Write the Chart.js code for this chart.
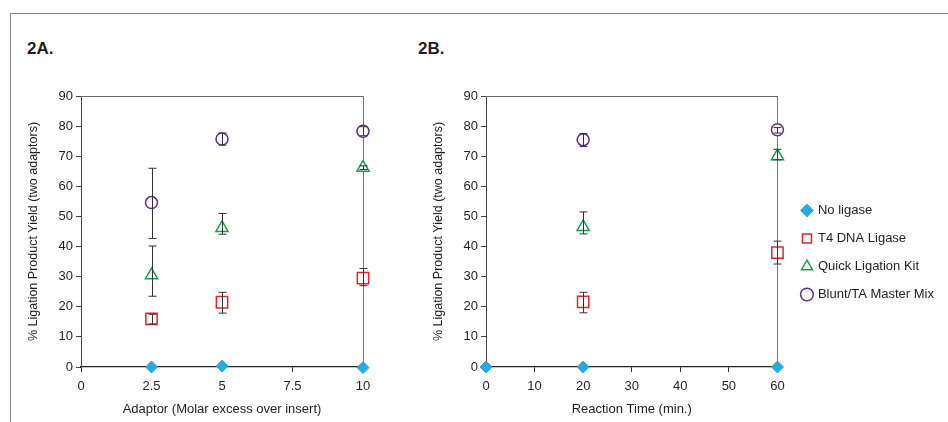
<!DOCTYPE html>
<html>
<head>
  <title>Ligation Product Yield</title>
  <script src="https://cdn.jsdelivr.net/npm/chart.js"></script>
  <style>
    html, body { margin: 0; padding: 0; background: #fff; overflow: hidden; width: 948px; height: 422px; }
    #frame { position: absolute; left: 10px; top: 13px; width: 950px; height: 430px;
             border-top: 1.5px solid #8a8a8a; border-left: 1.5px solid #8a8a8a; }
    .panel { position: absolute; top: 40px; font: bold 17px "Liberation Sans", Arial, sans-serif;
             color: #231f20; line-height: 1; }
    canvas { position: absolute; top: 0; }
  </style>
</head>
<body>
  <div id="frame"></div>
  <div class="panel" style="left:27px">2A.</div>
  <div class="panel" style="left:418px">2B.</div>
  <canvas id="chartA" width="400" height="422" style="left:0"></canvas>
  <canvas id="chartB" width="560" height="422" style="left:400px"></canvas>

  <script>
    // --- data ---
    const seriesNames = ['No ligase', 'T4 DNA Ligase', 'Quick Ligation Kit', 'Blunt/TA Master Mix'];
    const yTicks = { min: 0, max: 90, step: 10 };

    // 2A: adaptor molar excess
    const adaptorX = [2.5, 5, 10];
    const noLigaseA = [0, 0.3, -0.2];
    const t4A = [16, 21.5, 29.5];
    const t4ALo = [14.3, 17.9, 27];
    const t4AHi = [17.5, 24.8, 32.7];
    const quickA = [30.5, 46.2, 66.2];
    const quickALo = [23.5, 44.1, 65.6];
    const quickAHi = [40.2, 51, 66.8];
    const bluntA = [54.6, 75.7, 78.3];
    const bluntALo = [42.7, 73.7, 76.8];
    const bluntAHi = [66, 77.7, 79.8];

    // 2B: reaction time (min.)
    const timeAllX = [0, 20, 60];
    const timeX = [20, 60];
    const noLigaseB = [0, 0, 0];
    const t4B = [21.6, 38];
    const t4BLo = [18, 34.2];
    const t4BHi = [24.8, 41.8];
    const quickB = [46.5, 70];
    const quickBLo = [44.2, 68.8];
    const quickBHi = [51.5, 72.3];
    const bluntB = [75.5, 78.8];
    const bluntBLo = [73.2, 77.7];
    const bluntBHi = [77.5, 79.5];

    Chart.defaults.font.family = '"Liberation Sans", Arial, sans-serif';
    Chart.defaults.font.size = 13;
    Chart.defaults.color = '#231f20';

    const styles = [
      { pointStyle: 'rectRot', pointRadius: 6, backgroundColor: '#27aae1', borderColor: '#27aae1', borderWidth: 1 },
      { pointStyle: 'rect', pointRadius: 8, backgroundColor: '#fff', borderColor: '#e4252d', borderWidth: 1.5 },
      { pointStyle: 'triangle', pointRadius: 7, backgroundColor: '#fff', borderColor: '#12a04b', borderWidth: 1.5 },
      { pointStyle: 'circle', pointRadius: 6, backgroundColor: '#fff', borderColor: '#5f2c91', borderWidth: 1.5 }
    ];

    function series(i, xs, ys, lo, hi) {
      return Object.assign({
        label: seriesNames[i],
        data: xs.map((x, k) => ({ x: x, y: ys[k] })),
        errLo: lo, errHi: hi,
        showLine: false, clip: false
      }, styles[i], { pointHoverRadius: styles[i].pointRadius });
    }

    // vertical error bars with caps, drawn over the markers
    const errorBars = {
      id: 'errorBars',
      afterDatasetsDraw(chart) {
        const { ctx, scales: { x, y } } = chart;
        ctx.save();
        ctx.strokeStyle = '#333';
        ctx.lineWidth = 1;
        chart.data.datasets.forEach(ds => {
          if (!ds.errLo) return;
          ds.data.forEach((p, i) => {
            const px = Math.round(x.getPixelForValue(p.x)) + 0.5;
            const y1 = y.getPixelForValue(ds.errLo[i]);
            const y2 = y.getPixelForValue(ds.errHi[i]);
            ctx.beginPath();
            ctx.moveTo(px, y1); ctx.lineTo(px, y2);
            ctx.moveTo(px - 4, y1); ctx.lineTo(px + 4, y1);
            ctx.moveTo(px - 4, y2); ctx.lineTo(px + 4, y2);
            ctx.stroke();
          });
        });
        ctx.restore();
      }
    };

    function makeOptions(xMax, xStep, xTitle, rightW, padding, showLegend) {
      return {
        responsive: false,
        animation: false,
        events: [],
        layout: { padding: padding },
        plugins: {
          tooltip: { enabled: false },
          legend: {
            display: showLegend,
            position: 'right',
            maxWidth: 200,
            labels: { usePointStyle: true, boxWidth: 9, boxHeight: 9, padding: 15, font: { size: 13 } }
          }
        },
        scales: {
          x: {
            type: 'linear', min: 0, max: xMax,
            ticks: { stepSize: xStep, padding: 7 },
            grid: { drawOnChartArea: false, tickLength: 5, color: '#333' },
            border: { color: '#222', width: 1.3 },
            title: { display: true, text: xTitle, font: { size: 13 }, padding: 4 },
            afterFit: s => { s.height = 54; }
          },
          y: {
            min: yTicks.min, max: yTicks.max,
            ticks: { stepSize: yTicks.step, padding: 3 },
            grid: { drawOnChartArea: false, tickLength: 5, color: '#444' },
            border: { color: '#444', width: 1 },
            title: { display: true, text: '% Ligation Product Yield (two adaptors)', font: { size: 12.5 }, padding: 4 },
            afterFit: s => { s.width = 59; }
          },
          xTop: {
            type: 'linear', position: 'top', min: 0, max: xMax,
            ticks: { display: false },
            grid: { drawOnChartArea: false, drawTicks: false },
            border: { color: '#666', width: 1 },
            afterFit: s => { s.height = 12; }
          },
          yRight: {
            type: 'linear', position: 'right', min: yTicks.min, max: yTicks.max,
            ticks: { display: false },
            grid: { drawOnChartArea: false, drawTicks: false },
            border: { color: '#777', width: 1 },
            afterFit: s => { s.width = rightW; }
          }
        }
      };
    }

    new Chart(document.getElementById('chartA'), {
      type: 'scatter',
      data: {
        datasets: [
          series(0, adaptorX, noLigaseA),
          series(1, adaptorX, t4A, t4ALo, t4AHi),
          series(2, adaptorX, quickA, quickALo, quickAHi),
          series(3, adaptorX, bluntA, bluntALo, bluntAHi)
        ]
      },
      options: makeOptions(10, 2.5, 'Adaptor (Molar excess over insert)', 0,
        { left: 22, right: 37, top: 84, bottom: 1 }, false),
      plugins: [errorBars]
    });

    new Chart(document.getElementById('chartB'), {
      type: 'scatter',
      data: {
        datasets: [
          series(0, timeAllX, noLigaseB),
          series(1, timeX, t4B, t4BLo, t4BHi),
          series(2, timeX, quickB, quickBLo, quickBHi),
          series(3, timeX, bluntB, bluntBLo, bluntBHi)
        ]
      },
      options: makeOptions(60, 10, 'Reaction Time (min.)', 10,
        { left: 27, right: 16, top: 84, bottom: 1 }, true),
      plugins: [errorBars]
    });
  </script>
</body>
</html>
